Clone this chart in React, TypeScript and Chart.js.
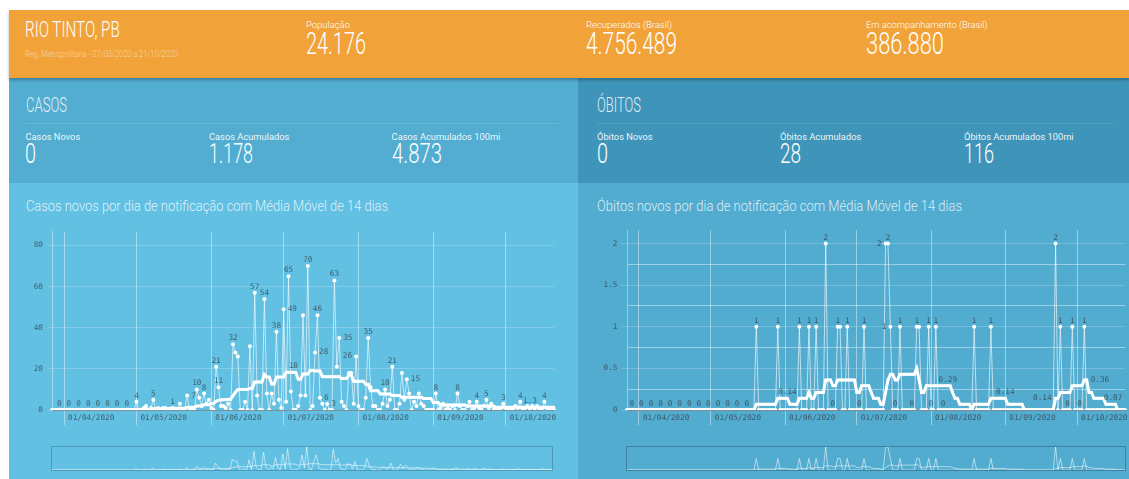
import React, { useEffect, useRef } from 'react';
import { Chart, registerables } from 'chart.js';

Chart.register(...registerables);

// ---------- categories (daily, 27/03/2020 .. 21/10/2020) ----------
const DAY_COUNT = 209;
const dates: string[] = Array.from({ length: DAY_COUNT }, (_, i) => {
  const d = new Date(2020, 2, 27 + i);
  return `${String(d.getDate()).padStart(2, '0')}/${String(d.getMonth() + 1).padStart(2, '0')}/${d.getFullYear()}`;
});

// ---------- series ----------
const casesDaily: number[] = [
  0, 0, 0, 0, 0, 0, 0, 0, 0, 0,
  0, 0, 0, 0, 0, 0, 0, 0, 0, 0,
  0, 0, 0, 0, 0, 0, 0, 0, 0, 0,
  0, 0, 0, 0, 0, 4, 0, 0, 1, 2,
  0, 1, 5, 0, 1, 0, 1, 1, 0, 0,
  1, 0, 0, 3, 0, 0, 7, 0, 1, 0,
  10, 6, 2, 8, 3, 5, 1, 0, 21, 11,
  2, 2, 1, 3, 0, 32, 28, 26, 0, 0,
  4, 0, 31, 0, 57, 7, 0, 0, 54, 8,
  0, 8, 3, 38, 5, 1, 49, 4, 65, 9,
  0, 0, 2, 7, 46, 7, 70, 0, 2, 28,
  46, 6, 3, 0, 3, 0, 0, 63, 21, 35,
  4, 2, 0, 18, 18, 3, 26, 2, 0, 0,
  6, 35, 11, 2, 2, 0, 0, 3, 10, 2,
  5, 21, 0, 0, 3, 18, 5, 15, 8, 0,
  4, 2, 8, 3, 2, 0, 0, 0, 0, 8,
  0, 1, 3, 0, 1, 0, 2, 0, 8, 2,
  0, 0, 2, 4, 0, 1, 4, 1, 0, 2,
  5, 1, 3, 0, 1, 0, 1, 3, 1, 0,
  1, 0, 2, 1, 4, 0, 1, 2, 0, 2,
  0, 2, 0, 0, 4, 1, 0, 1, 0,
];

const casesAvg: number[] = [
  0, 0, 0, 0, 0, 0, 0, 0, 0, 0,
  0, 0, 0, 0, 0, 0, 0, 0, 0, 0,
  0, 0, 0, 0, 0, 0, 0, 0, 0, 0,
  0, 0, 0, 0, 0, 0.3, 0.3, 0.3, 0.3, 0.3,
  0.3, 0.3, 0.6, 0.6, 0.6, 0.6, 0.6, 0.6, 0.6, 0.9,
  0.9, 0.9, 0.9, 0.9, 0.9, 0.9, 1.3, 1.3, 1.3, 1.3,
  2.0, 2.0, 2.0, 2.6, 2.6, 2.6, 3.2, 3.2, 4.3, 4.8,
  4.9, 5.0, 5.0, 5.2, 5.2, 7.0, 8.6, 10, 10, 10,
  10, 10, 10.5, 10.5, 13.6, 13.6, 13.6, 13.6, 17.3, 16,
  16, 12.6, 12.6, 16, 16, 16, 16, 18.3, 18.3, 18.3,
  18.3, 18.3, 15, 15, 17.5, 17.5, 17.5, 19.2, 19.2, 19,
  19, 19, 16.2, 16.2, 16.2, 16.2, 16.2, 16.2, 16.2, 16.2,
  15.3, 15.3, 15.3, 17, 17, 14, 14, 14, 14, 14,
  12.5, 12.5, 9.4, 9.4, 9.4, 9.4, 7.8, 7.8, 7.8, 7.8,
  7.8, 7, 7, 7, 7, 6.2, 6.2, 6.2, 6.2, 6.2,
  6.2, 6.2, 6.2, 6.2, 5.6, 5.6, 5.6, 5.6, 3.6, 3.6,
  3.6, 2.4, 2.4, 2.4, 2.4, 2.4, 2.4, 2.4, 2.4, 2.4,
  2.4, 2.4, 1.9, 1.9, 1.9, 1.9, 1.9, 1.9, 1.9, 1.9,
  1.9, 1.9, 1.9, 1.9, 1.3, 1.3, 1.3, 1.3, 1.3, 1.3,
  1.3, 1.3, 1.3, 1.3, 1.3, 1.3, 1.3, 1.3, 1.3, 1.3,
  1.3, 1.3, 1.3, 1.3, 1.3, 1.3, 1.3, 1.3, 1.3,
];

const deathsDaily: number[] = [
  0, 0, 0, 0, 0, 0, 0, 0, 0, 0,
  0, 0, 0, 0, 0, 0, 0, 0, 0, 0,
  0, 0, 0, 0, 0, 0, 0, 0, 0, 0,
  0, 0, 0, 0, 0, 0, 0, 0, 0, 0,
  0, 0, 0, 0, 0, 0, 0, 0, 0, 0,
  0, 0, 0, 0, 1, 0, 0, 0, 0, 0,
  0, 0, 0, 1, 0, 0, 0, 0, 0, 0,
  0, 0, 1, 0, 0, 0, 1, 0, 0, 1,
  0, 0, 0, 2, 0, 0, 0, 0, 1, 1,
  0, 0, 1, 0, 0, 0, 0, 0, 0, 1,
  0, 0, 0, 0, 0, 0, 0, 0, 2, 2,
  1, 0, 0, 0, 1, 0, 0, 0, 0, 0,
  0, 1, 1, 0, 0, 0, 1, 0, 0, 1,
  0, 0, 0, 0, 0, 0, 0, 0, 0, 0,
  0, 0, 0, 0, 0, 1, 0, 0, 0, 0,
  0, 0, 1, 0, 0, 0, 0, 0, 0, 0,
  0, 0, 0, 0, 0, 0, 0, 0, 0, 0,
  0, 0, 0, 0, 0, 0, 0, 0, 0, 2,
  0, 1, 0, 0, 0, 0, 1, 0, 0, 0,
  0, 1, 0, 0, 0, 0, 0, 0, 0, 0,
  0, 0, 0, 0, 0, 0, 0, 0, 0,
];

const deathsAvg: number[] = [
  0, 0, 0, 0, 0, 0, 0, 0, 0, 0,
  0, 0, 0, 0, 0, 0, 0, 0, 0, 0,
  0, 0, 0, 0, 0, 0, 0, 0, 0, 0,
  0, 0, 0, 0, 0, 0, 0, 0, 0, 0,
  0, 0, 0, 0, 0, 0, 0, 0, 0, 0,
  0, 0, 0, 0, 0.07, 0.07, 0.07, 0.07, 0.07, 0.07,
  0.07, 0.07, 0.07, 0.14, 0.14, 0.14, 0.14, 0.14, 0.07, 0.07,
  0.07, 0.07, 0.14, 0.14, 0.14, 0.14, 0.21, 0.14, 0.14, 0.21,
  0.21, 0.21, 0.21, 0.36, 0.36, 0.36, 0.29, 0.29, 0.36, 0.36,
  0.36, 0.36, 0.36, 0.36, 0.36, 0.36, 0.21, 0.21, 0.29, 0.29,
  0.29, 0.29, 0.21, 0.14, 0.14, 0.14, 0.07, 0.07, 0.21, 0.36,
  0.43, 0.43, 0.36, 0.36, 0.43, 0.43, 0.43, 0.43, 0.43, 0.43,
  0.43, 0.5, 0.36, 0.21, 0.21, 0.29, 0.29, 0.29, 0.29, 0.29,
  0.29, 0.29, 0.29, 0.29, 0.29, 0.29, 0.21, 0.14, 0.14, 0.07,
  0.07, 0.07, 0.07, 0.07, 0, 0.07, 0.07, 0.07, 0.07, 0.07,
  0.07, 0.07, 0.14, 0.14, 0.14, 0.14, 0.14, 0.14, 0.14, 0.07,
  0.07, 0.07, 0.07, 0.07, 0.07, 0.07, 0, 0, 0, 0,
  0, 0, 0, 0, 0, 0, 0, 0, 0, 0.14,
  0.14, 0.21, 0.21, 0.21, 0.21, 0.21, 0.29, 0.29, 0.29, 0.29,
  0.29, 0.36, 0.36, 0.21, 0.21, 0.14, 0.14, 0.14, 0.14, 0.14,
  0.07, 0.07, 0.07, 0.07, 0.07, 0, 0, 0, 0,
];

// ---------- which points carry a value label (index, side) ----------
type Side = 'c' | 'l' | 'r';
const casesDailyLabelPts: [number, Side][] = [
  [3, 'c'], [7, 'c'], [11, 'c'], [15, 'c'], [19, 'c'], [23, 'c'], [27, 'c'], [31, 'c'],
  [35, 'c'], [42, 'c'], [50, 'c'], [56, 'r'], [60, 'c'], [63, 'c'], [68, 'c'], [69, 'c'],
  [75, 'c'], [84, 'c'], [88, 'c'], [93, 'c'], [96, 'r'], [98, 'c'], [106, 'c'], [109, 'r'],
  [110, 'c'], [111, 'r'], [114, 'r'], [117, 'c'], [119, 'r'], [126, 'l'], [131, 'c'],
  [138, 'c'], [141, 'c'], [147, 'r'], [159, 'c'], [168, 'c'], [176, 'c'], [180, 'c'],
  [187, 'c'], [194, 'c'], [204, 'c'],
];
const casesAvgLabelPts: [number, Side][] = [[100, 'c'], [198, 'c']];

const deathsDailyLabelPts: [number, Side][] = [
  [2, 'c'], [6, 'c'], [10, 'c'], [14, 'c'], [18, 'c'], [22, 'c'], [26, 'c'], [30, 'c'],
  [34, 'c'], [38, 'c'], [42, 'c'], [46, 'c'], [50, 'c'], [54, 'c'], [63, 'c'], [72, 'c'],
  [76, 'c'], [79, 'c'], [83, 'c'], [86, 'c'], [88, 'c'], [92, 'c'], [97, 'c'], [99, 'c'],
  [108, 'l'], [109, 'c'], [110, 'l'], [112, 'c'], [114, 'c'], [119, 'c'], [121, 'c'],
  [126, 'c'], [127, 'c'], [129, 'c'], [132, 'c'], [145, 'c'], [152, 'c'], [179, 'c'],
  [181, 'c'], [184, 'c'], [186, 'c'], [189, 'c'], [191, 'c'],
];
const deathsAvgLabelPts: [number, Side][] = [
  [67, 'c'], [134, 'c'], [158, 'c'], [179, 'l'], [192, 'r'], [203, 'c'],
];

// ---------- styling constants ----------
const MONO = "'DejaVu Sans Mono', monospace";
const TICK = 'rgba(45,50,55,0.68)';
const TICK_FONT = { family: MONO, size: 7.7 };

type Mark = [number, number, Side];

function labelPlugin(marks: Mark[], fmt: (ds: number, v: number) => string) {
  return {
    id: 'pointValueLabels',
    afterDatasetsDraw(chart: any) {
      const ctx = chart.ctx as CanvasRenderingContext2D;
      ctx.save();
      ctx.font = `${TICK_FONT.size}px ${MONO}`;
      ctx.fillStyle = TICK;
      for (const [ds, idx, side] of marks) {
        const el = chart.getDatasetMeta(ds).data[idx];
        if (!el) continue;
        const v = chart.data.datasets[ds].data[idx] as number;
        const t = fmt(ds, v);
        if (side === 'c') {
          ctx.textAlign = 'center';
          ctx.textBaseline = 'alphabetic';
          ctx.fillText(t, el.x, el.y - 4);
        } else if (side === 'r') {
          ctx.textAlign = 'left';
          ctx.textBaseline = 'middle';
          ctx.fillText(t, el.x + 4, el.y);
        } else {
          ctx.textAlign = 'right';
          ctx.textBaseline = 'middle';
          ctx.fillText(t, el.x - 4, el.y);
        }
      }
      ctx.restore();
    },
  };
}

interface MainParams {
  daily: number[];
  avg: number[];
  yMax: number;
  step: number;
  labelEvery: number;
  minor: boolean;
  yW: number;
  padR: number;
  tickLen: number;
  tickPad: number;
  dailyPts: [number, Side][];
  avgPts: [number, Side][];
  fmtAvg: (v: number) => string;
}

function buildMain(p: MainParams): any {
  const isMonth = (i: number) => !!dates[i] && dates[i].startsWith('01/');
  const isMajor = (v: number) => Math.abs(v / p.labelEvery - Math.round(v / p.labelEvery)) < 1e-6;
  const marks: Mark[] = [
    ...p.dailyPts.map(([i, s]) => [1, i, s] as Mark),
    ...p.avgPts.map(([i, s]) => [0, i, s] as Mark),
  ];
  return {
    type: 'line',
    data: {
      labels: dates,
      datasets: [
        {
          data: p.avg,
          borderColor: '#ffffff',
          borderWidth: 3,
          pointRadius: 1.7,
          pointStyle: 'rect',
          pointBackgroundColor: '#ffffff',
          pointBorderWidth: 0,
          tension: 0,
          order: 0,
        },
        {
          data: p.daily,
          borderColor: 'rgba(255,255,255,0.62)',
          borderWidth: 1,
          pointRadius: 2,
          pointBackgroundColor: '#ffffff',
          pointBorderWidth: 0,
          tension: 0,
          order: 1,
        },
      ],
    },
    options: {
      responsive: false,
      animation: false,
      events: [],
      layout: { padding: { left: 0, right: p.padR, top: 8, bottom: 0 } },
      plugins: { legend: { display: false }, tooltip: { enabled: false } },
      scales: {
        x: {
          type: 'category',
          afterFit: (s: any) => { s.height = 30; },
          grid: {
            color: (c: any) => (isMonth(c.index) ? 'rgba(255,255,255,0.42)' : 'rgba(0,0,0,0)'),
            tickLength: 15,
            lineWidth: 1,
          },
          border: { color: 'rgba(125,125,125,0.75)' },
          ticks: {
            autoSkip: false,
            maxRotation: 0,
            minRotation: 0,
            align: 'start',
            labelOffset: 4,
            padding: -11.3,
            font: TICK_FONT,
            color: TICK,
            callback: (_v: any, i: number) => (isMonth(i) ? dates[i] : ''),
          },
        },
        y: {
          min: 0,
          max: p.yMax,
          afterFit: (s: any) => { s.width = p.yW; },
          grid: {
            color: (c: any) => {
              const v = c.tick ? c.tick.value : 0;
              return p.minor && !isMajor(v) ? 'rgba(255,255,255,0.42)' : 'rgba(255,255,255,0.2)';
            },
            tickColor: (c: any) => {
              const v = c.tick ? c.tick.value : 0;
              return isMajor(v) ? 'rgba(255,255,255,0.2)' : 'rgba(0,0,0,0)';
            },
            tickLength: p.tickLen,
          },
          border: { color: 'rgba(255,255,255,0.4)' },
          ticks: {
            stepSize: p.step,
            includeBounds: false,
            padding: p.tickPad,
            font: TICK_FONT,
            color: TICK,
            callback: (v: any) => (isMajor(Number(v)) ? String(v) : ''),
          },
        },
      },
    },
    plugins: [labelPlugin(marks, (ds, v) => (ds === 0 ? p.fmtAvg(v) : String(v)))],
  };
}

function buildNav(daily: number[], avg: number[]): any {
  const max = Math.max(...daily);
  return {
    type: 'line',
    data: {
      labels: dates,
      datasets: [
        { data: daily, borderColor: 'rgba(255,255,255,0.55)', borderWidth: 1, pointRadius: 0, tension: 0 },
        { data: avg, borderColor: 'rgba(255,255,255,0.55)', borderWidth: 1, pointRadius: 0, tension: 0 },
      ],
    },
    options: {
      responsive: false,
      animation: false,
      events: [],
      layout: { padding: 0 },
      plugins: { legend: { display: false }, tooltip: { enabled: false } },
      scales: {
        x: { display: false },
        y: { display: false, min: 0, max },
      },
    },
  };
}

function ChartCanvas({ left, top, width, height, build }: { left: number; top: number; width: number; height: number; build: () => any }) {
  const ref = useRef<HTMLCanvasElement | null>(null);
  useEffect(() => {
    if (!ref.current) return;
    const ch = new Chart(ref.current, build());
    return () => ch.destroy();
  }, []);
  return (
    <canvas
      ref={ref}
      width={width}
      height={height}
      style={{ position: 'absolute', left, top, width, height, display: 'block' }}
    />
  );
}

// ---------- text helper (condensed headline text) ----------
let measureCtx: CanvasRenderingContext2D | null = null;
function measure(text: string, size: number, weight: number): number {
  if (!measureCtx) measureCtx = document.createElement('canvas').getContext('2d');
  if (!measureCtx) return 0;
  measureCtx.font = `${weight} ${size}px Roboto`;
  return measureCtx.measureText(text).width;
}

function T({ x, y, size, w, weight = 300, color = '#ffffff', children }: { x: number; y: number; size: number; w?: number; weight?: number; color?: string; children: string }) {
  let sx = 1;
  if (w) {
    const m = measure(children, size, weight);
    if (m > 0) sx = w / m;
  }
  return (
    <div
      style={{
        position: 'absolute',
        left: x,
        top: y - 0.131 * size,
        fontFamily: 'Roboto',
        fontWeight: weight,
        fontSize: size,
        lineHeight: 1,
        color,
        whiteSpace: 'nowrap',
        transform: `scaleX(${sx})`,
        transformOrigin: '0 0',
      }}
    >
      {children}
    </div>
  );
}

const box = (left: number, top: number, width: number, height: number, background: string, extra: React.CSSProperties = {}): React.CSSProperties => ({
  position: 'absolute', left, top, width, height, background, ...extra,
});

export default function App() {
  const LBL = 'rgba(255,255,255,0.92)';
  return (
    <div style={{ position: 'absolute', left: 0, top: 0, width: 1129, height: 479, overflow: 'hidden', background: '#ffffff' }}>
      {/* panels */}
      <div style={box(9, 78, 569, 105, '#52add1')} />
      <div style={box(578, 78, 551, 105, '#3f95b9')} />
      <div style={box(9, 183, 569, 296, '#62c0e3')} />
      <div style={box(578, 183, 551, 296, '#52acd0')} />
      <div style={box(9, 10, 1120, 68, '#f1a33a', { boxShadow: '0 2px 3px rgba(0,0,0,0.28)', zIndex: 2 })}>
      </div>

      {/* header texts */}
      <div style={{ position: 'absolute', left: 0, top: 0, zIndex: 3 }}>
        <T x={25} y={21.7} size={22} w={95}>RIO TINTO, PB</T>
        <T x={25} y={50.7} size={8.5} w={153} color="rgba(255,255,255,0.55)">Reg. Metropolitana - 27/03/2020 a 21/10/2020</T>
        <T x={306} y={22.5} size={9} w={44}>População</T>
        <T x={306} y={33.3} size={30.5} w={60}>24.176</T>
        <T x={586} y={22.5} size={9} w={86}>Recuperados (Brasil)</T>
        <T x={586} y={33.3} size={30.5} w={91}>4.756.489</T>
        <T x={865.5} y={22.5} size={9} w={121.5}>Em acompanhamento (Brasil)</T>
        <T x={865.5} y={33.3} size={30.5} w={78}>386.880</T>
      </div>

      {/* casos stats */}
      <T x={25.5} y={98} size={20.5} w={41} color="rgba(255,255,255,0.85)">CASOS</T>
      <div style={box(25, 123, 533, 1, 'rgba(255,255,255,0.12)')} />
      <T x={25.5} y={133} size={9.3} weight={400} color={LBL}>Casos Novos</T>
      <T x={209} y={133} size={9.3} weight={400} color={LBL}>Casos Acumulados</T>
      <T x={391.6} y={133} size={9.3} weight={400} color={LBL}>Casos Acumulados 100mi</T>
      <T x={25} y={143.3} size={28} w={11}>0</T>
      <T x={209} y={143.3} size={28} w={44}>1.178</T>
      <T x={391.6} y={143.3} size={28} w={50}>4.873</T>

      {/* óbitos stats */}
      <T x={596.5} y={98} size={20.5} w={44} color="rgba(255,255,255,0.85)">ÓBITOS</T>
      <div style={box(597, 123, 516, 1, 'rgba(255,255,255,0.1)')} />
      <T x={597} y={133} size={9.3} weight={400} color={LBL}>Óbitos Novos</T>
      <T x={780} y={133} size={9.3} weight={400} color={LBL}>Óbitos Acumulados</T>
      <T x={964} y={133} size={9.3} weight={400} color={LBL}>Óbitos Acumulados 100mi</T>
      <T x={597} y={143.3} size={28} w={11}>0</T>
      <T x={780} y={143.3} size={28} w={21}>28</T>
      <T x={964} y={143.3} size={28} w={30}>116</T>

      {/* chart titles */}
      <T x={25.5} y={202} size={14.5} w={362} color="rgba(255,255,255,0.8)">Casos novos por dia de notificação com Média Móvel de 14 dias</T>
      <T x={597} y={202} size={14.5} w={365} color="rgba(255,255,255,0.8)">Óbitos novos por dia de notificação com Média Móvel de 14 dias</T>

      {/* main charts */}
      <ChartCanvas
        left={9}
        top={222}
        width={569}
        height={218}
        build={() =>
          buildMain({
            daily: casesDaily,
            avg: casesAvg,
            yMax: 86.7,
            step: 20,
            labelEvery: 20,
            minor: false,
            yW: 43,
            padR: 24,
            tickLen: 4,
            tickPad: 5,
            dailyPts: casesDailyLabelPts,
            avgPts: casesAvgLabelPts,
            fmtAvg: (v) => (v >= 10 ? String(Math.round(v)) : String(Math.round(v * 10) / 10)),
          })
        }
      />
      <ChartCanvas
        left={578}
        top={222}
        width={551}
        height={218}
        build={() =>
          buildMain({
            daily: deathsDaily,
            avg: deathsAvg,
            yMax: 2.16,
            step: 0.25,
            labelEvery: 0.5,
            minor: true,
            yW: 49,
            padR: 3,
            tickLen: 6,
            tickPad: 3.6,
            dailyPts: deathsDailyLabelPts,
            avgPts: deathsAvgLabelPts,
            fmtAvg: (v) => String(Math.round(v * 100) / 100),
          })
        }
      />

      {/* navigators */}
      <div style={box(51, 446, 502, 25, 'transparent', { border: '1px solid rgba(45,95,120,0.4)', boxSizing: 'border-box' })}>
        <ChartCanvas left={0} top={0} width={500} height={23} build={() => buildNav(casesDaily, casesAvg)} />
      </div>
      <div style={box(626, 446, 500, 25, 'transparent', { border: '1px solid rgba(35,80,105,0.45)', boxSizing: 'border-box' })}>
        <ChartCanvas left={0} top={0} width={498} height={23} build={() => buildNav(deathsDaily, deathsAvg)} />
      </div>
    </div>
  );
}
